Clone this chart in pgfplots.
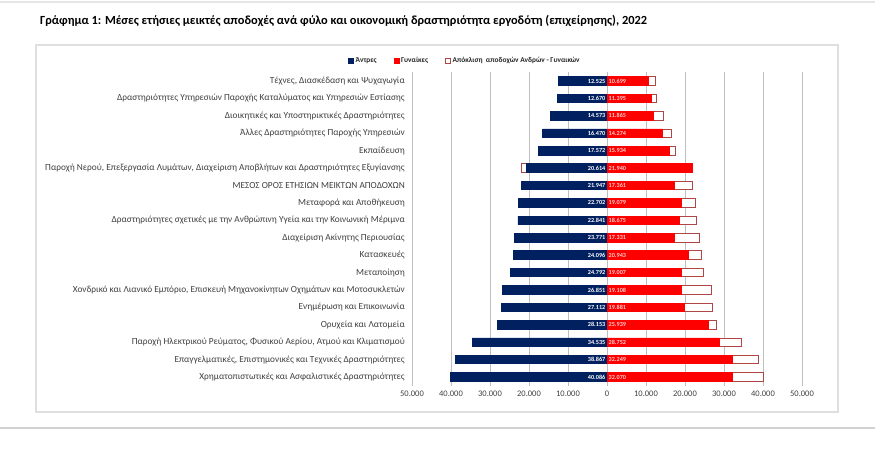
\documentclass[border=0pt]{standalone}
\usepackage{pgfplots}
\pgfplotsset{compat=1.18}
\usepackage{fontspec}
\setmainfont{Carlito}
\definecolor{navy}{RGB}{0,32,96}
\definecolor{wred}{RGB}{255,0,0}
\definecolor{gapb}{RGB}{175,70,70}
\definecolor{lbl}{RGB}{64,64,64}
\definecolor{pinklbl}{RGB}{255,205,205}
\begin{document}
\begin{tikzpicture}
\useasboundingbox (0pt,0pt) rectangle (875pt,466pt);
\fill[white] (0pt,0pt) rectangle (875pt,466pt);
\draw[gray!20, line width=1.5pt] (0pt,464pt) -- (875pt,464pt);
\draw[gray!35, line width=1.5pt] (0pt,38pt) -- (875pt,38pt);
\draw[gray!25, line width=1.2pt] (36pt,54pt) rectangle (838pt,421pt);
\node[anchor=west, inner sep=0pt, font=\bfseries\fontsize{12.4}{14}\selectfont] at (40pt,445pt) {Γράφημα 1: Μέσες ετήσιες μεικτές αποδοχές ανά φύλο και οικονομική δραστηριότητα εργοδότη (επιχείρησης), 2022};
\begin{axis}[
  at={(412pt,80.3pt)}, anchor=south west, scale only axis,
  width=390pt, height=313.4pt,
  xmin=-50000, xmax=50000, ymin=-0.5, ymax=17.5,
  y dir=reverse,
  ytick={0,...,17},
  yticklabels={
    {Τέχνες, Διασκέδαση και Ψυχαγωγία},
    {Δραστηριότητες Υπηρεσιών Παροχής Καταλύματος και Υπηρεσιών Εστίασης},
    {Διοικητικές και Υποστηρικτικές Δραστηριότητες},
    {Άλλες Δραστηριότητες Παροχής Υπηρεσιών},
    {Εκπαίδευση},
    {Παροχή Νερού, Επεξεργασία Λυμάτων, Διαχείριση Αποβλήτων και Δραστηριότητες Εξυγίανσης},
    {ΜΕΣΟΣ ΟΡΟΣ ΕΤΗΣΙΩΝ ΜΕΙΚΤΩΝ ΑΠΟΔΟΧΩΝ},
    {Μεταφορά και Αποθήκευση},
    {Δραστηριότητες σχετικές με την Ανθρώπινη Υγεία και την Κοινωνική Μέριμνα},
    {Διαχείριση Ακίνητης Περιουσίας},
    {Κατασκευές},
    {Μεταποίηση},
    {Χονδρικό και Λιανικό Εμπόριο, Επισκευή Μηχανοκίνητων Οχημάτων και Μοτοσυκλετών},
    {Ενημέρωση και Επικοινωνία},
    {Ορυχεία και Λατομεία},
    {Παροχή Ηλεκτρικού Ρεύματος, Φυσικού Αερίου, Ατμού και Κλιματισμού},
    {Επαγγελματικές, Επιστημονικές και Τεχνικές Δραστηριότητες},
    {Χρηματοπιστωτικές και Ασφαλιστικές Δραστηριότητες}},
  xtick={-50000,-40000,...,50000},
  xticklabels={50.000,40.000,30.000,20.000,10.000,0,10.000,20.000,30.000,40.000,50.000},
  scaled x ticks=false,
  xmajorgrids,
  grid style={gray!50, line width=0.6pt},
  axis line style={draw=none},
  major tick length=0pt,
  yticklabel style={font=\fontsize{9.3}{10}\selectfont, text=lbl, inner sep=2pt, xshift=-5pt},
  xticklabel style={font=\fontsize{8.5}{10}\selectfont, text=lbl, yshift=-2pt},
  legend columns=3,
  legend style={draw=none, fill=none, at={(-0.172,1.036)}, anchor=west,
    font=\bfseries\fontsize{7.4}{8}\selectfont, text=black!85,
    /tikz/every even column/.append style={column sep=15pt}},
  legend image code/.code={\draw[#1] (0pt,-2.5pt) rectangle (5pt,2.5pt);},
]
% gap boxes (extend to the higher wage)
\addplot[xbar, bar width=8.5pt, bar shift=0pt, fill=white, draw=gapb, line width=0.8pt, forget plot]
  coordinates {(-21940,5)};
\addplot[xbar, bar width=8.5pt, bar shift=0pt, fill=white, draw=gapb, line width=0.8pt, forget plot]
  coordinates {(12525,0) (12670,1) (14573,2) (16470,3) (17572,4) (21947,6) (22702,7) (22841,8) (23771,9) (24096,10) (24792,11) (26851,12) (27112,13) (28153,14) (34535,15) (38867,16) (40086,17)};
% men
\addplot[xbar, bar width=8.5pt, bar shift=0pt, fill=navy, draw=navy, line width=0.8pt, forget plot]
  coordinates {(-12525,0) (-12670,1) (-14573,2) (-16470,3) (-17572,4) (-20614,5) (-21947,6) (-22702,7) (-22841,8) (-23771,9) (-24096,10) (-24792,11) (-26851,12) (-27112,13) (-28153,14) (-34535,15) (-38867,16) (-40086,17)};
% women
\addplot[xbar, bar width=8.5pt, bar shift=0pt, fill=wred, draw=wred, line width=0.8pt, forget plot]
  coordinates {(10699,0) (11395,1) (11865,2) (14274,3) (15934,4) (21940,5) (17361,6) (19079,7) (18675,8) (17331,9) (20943,10) (19007,11) (19108,12) (19881,13) (25939,14) (28752,15) (32249,16) (32070,17)};
% value labels
\addplot[draw=none, forget plot, nodes near coords, point meta=explicit symbolic,
  every node near coord/.append style={anchor=east, text=white, inner sep=1.5pt, font=\bfseries\fontsize{6.2}{7}\selectfont}]
  coordinates {(0,0) [12.525] (0,1) [12.670] (0,2) [14.573] (0,3) [16.470] (0,4) [17.572] (0,5) [20.614] (0,6) [21.947] (0,7) [22.702] (0,8) [22.841] (0,9) [23.771] (0,10) [24.096] (0,11) [24.792] (0,12) [26.851] (0,13) [27.112] (0,14) [28.153] (0,15) [34.535] (0,16) [38.867] (0,17) [40.086]};
\addplot[draw=none, forget plot, nodes near coords, point meta=explicit symbolic,
  every node near coord/.append style={anchor=west, text=pinklbl, inner sep=1.5pt, font=\bfseries\fontsize{6.2}{7}\selectfont}]
  coordinates {(0,0) [10.699] (0,1) [11.395] (0,2) [11.865] (0,3) [14.274] (0,4) [15.934] (0,5) [21.940] (0,6) [17.361] (0,7) [19.079] (0,8) [18.675] (0,9) [17.331] (0,10) [20.943] (0,11) [19.007] (0,12) [19.108] (0,13) [19.881] (0,14) [25.939] (0,15) [28.752] (0,16) [32.249] (0,17) [32.070]};
\addlegendimage{fill=navy, draw=navy}
\addlegendentry{Άντρες}
\addlegendimage{fill=wred, draw=wred}
\addlegendentry{Γυναίκες}
\addlegendimage{fill=white, draw=gapb, line width=0.6pt}
\addlegendentry{Απόκλιση\ \ αποδοχών Ανδρών - Γυναικών}
\end{axis}
\end{tikzpicture}
\end{document}
